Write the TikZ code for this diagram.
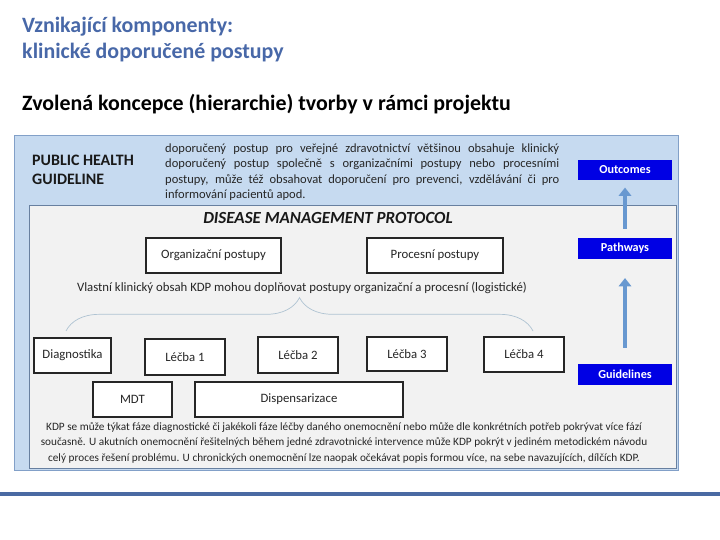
\documentclass[tikz,border=0pt]{standalone}
\usepackage{fontspec}
\setmainfont{Carlito}
\usetikzlibrary{arrows.meta,decorations.pathreplacing}

\definecolor{titleblue}{RGB}{72,104,168}
\definecolor{panelblue}{RGB}{198,218,240}
\definecolor{panelline}{RGB}{130,160,200}
\definecolor{panelgray}{RGB}{242,242,242}
\definecolor{tagblue}{RGB}{0,0,228}
\definecolor{arrowblue}{RGB}{104,152,208}
\definecolor{rulecol}{RGB}{74,106,163}
\definecolor{bracecol}{RGB}{175,195,210}

\newcommand{\txtsmall}{\fontsize{10.9}{13}\selectfont}
\newcommand{\txttiny}{\fontsize{9.6}{13}\selectfont}

\begin{document}
\begin{tikzpicture}[x=0.03cm, y=-0.03cm,
    box/.style={draw=black!85, line width=1.1pt, fill=white, inner sep=0pt,
        font=\txtsmall, text=black!85},
    tag/.style={fill=tagblue, inner sep=0pt, minimum width=2.82cm,
        minimum height=0.62cm, font=\fontsize{10.4}{12}\selectfont\bfseries, text=white},
    uparrow/.style={draw=arrowblue, line width=4.2pt,
        -{Triangle[width=10.5pt,length=7pt]}},
    bracestyle/.style={draw=bracecol, line width=0.6pt,
        decorate, decoration={brace, amplitude=1cm}}]
    \useasboundingbox (0,0) rectangle (720,540);

    % Heading
    \node[anchor=base west, inner sep=0pt, align=left, text=titleblue,
        font=\fontsize{18.7}{22.5}\selectfont\bfseries] (title) at (22,59)
        {Vznikající komponenty:\\klinické doporučené postupy};
    \node[anchor=base west, inner sep=0pt, font=\fontsize{18.7}{22}\selectfont\bfseries]
        (subtitle) at (22,111) {Zvolená koncepce (hierarchie) tvorby v rámci projektu};

    % Panels
    \draw[panelline, fill=panelblue, line width=0.8pt] (14,135) rectangle (678,470);
    \draw[panelline!80!black, fill=panelgray, line width=0.6pt] (29,205) rectangle (676,468);

    % Public health guideline
    \node[anchor=base west, inner sep=0pt, align=left, text=black!90,
        font=\fontsize{13.6}{17}\selectfont\bfseries] (phg) at (32,185)
        {PUBLIC HEALTH\\GUIDELINE};
    \node[anchor=north west, inner sep=0pt, text width=11.82cm, align=justify,
        text=black!85, font=\fontsize{10.7}{13.2}\selectfont] (phgtext) at (165,143.5)
        {doporučený postup pro veřejné zdravotnictví většinou obsahuje klinický\linebreak
        doporučený postup společně s organizačními postupy nebo procesními\linebreak
        postupy, může též obsahovat doporučení pro prevenci, vzdělávání či pro\linebreak
        informování pacientů apod.};

    % Outcomes, Pathways, Guidelines
    \node[tag] (out) at (625,170) {Outcomes};
    \node[tag] (path) at (625,248.5) {Pathways};
    \node[tag] (guide) at (625,374.5) {Guidelines};
    \draw[uparrow, shorten <=0.48cm, shorten >=0.57cm] (guide) -- (path);
    \draw[uparrow, shorten <=0.27cm, shorten >=0.21cm] (path) -- (out);

    % Disease management protocol
    \node[anchor=base, font=\fontsize{14.5}{16}\selectfont\bfseries\itshape,
        text=black!90] (dmp) at (328,224) {DISEASE MANAGEMENT PROTOCOL};
    \node[box, minimum width=4.05cm, minimum height=1.05cm] (org) at (213.5,255.5)
        {Organizační postupy};
    \node[box, minimum width=4.08cm, minimum height=1.05cm] (proc) at (435,255.5)
        {Procesní postupy};
    \node[anchor=base, font=\txtsmall, text=black!85] (own) at (302,292)
        {Vlastní klinický obsah KDP mohou doplňovat postupy organizační a procesní (logistické)};

    % Brace
    \coordinate (braceL) at (66,331);
    \coordinate (braceR) at (533,331);
    \draw[bracestyle] (braceL) -- (braceR);

    % Phases
    \node[box, minimum width=2.31cm, minimum height=1.05cm] (diag) at (72.5,355.5) {Diagnostika};
    \node[box, minimum width=2.4cm, minimum height=1.08cm] (l1) at (185,357) {Léčba 1};
    \node[box, minimum width=2.4cm, minimum height=1.08cm] (l2) at (298,355) {Léčba 2};
    \node[box, minimum width=2.4cm, minimum height=1.02cm] (l3) at (407,354) {Léčba 3};
    \node[box, minimum width=2.4cm, minimum height=1.05cm] (l4) at (524,354.5) {Léčba 4};
    \node[box, minimum width=2.37cm, minimum height=1.05cm] (mdt) at (132.5,399.5) {MDT};
    \node[box, minimum width=6.24cm, minimum height=1.05cm] (disp) at (299,399.5) {Dispensarizace};

    % Note
    \node[anchor=north, inner sep=0pt, align=center, text=black!85, font=\txttiny]
        (note) at (344,422.5)
        {KDP se může týkat fáze diagnostické či jakékoli fáze léčby daného onemocnění nebo může dle konkrétních potřeb pokrývat více fází\\
        současně. U akutních onemocnění řešitelných během jedné zdravotnické intervence může KDP pokrýt v jediném metodickém návodu\\
        celý proces řešení problému. U chronických onemocnění lze naopak očekávat popis formou více, na sebe navazujících, dílčích KDP.};

    % Bottom rule
    \fill[rulecol] (0,492) rectangle (720,495.5);
\end{tikzpicture}
\end{document}
